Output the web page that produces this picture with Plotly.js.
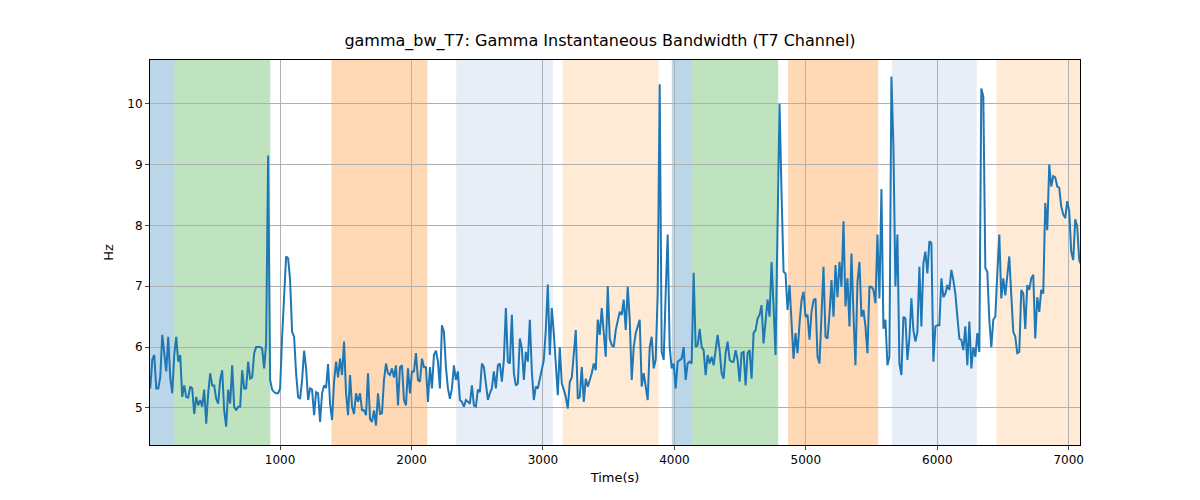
<!DOCTYPE html>
<html>
<head>
<meta charset="utf-8">
<script src="https://cdn.plot.ly/plotly-3.0.1.min.js"></script>
<style>body{margin:0;background:#fff}</style>
</head>
<body>
<div id="myChart" style="width:1200px;height:500px"></div>
<script>
// sampling: first time and step (s)
const t0 = 12, dt = 15.2;

const hz = [
  5.32,5.79,5.87,5.32,5.32,5.5,6.2,5.9,5.6,6.17,5.5,5.24,5.87,6.17,5.76,5.87,5.18,5.37,5.18,5.17,
  5.35,5.32,4.9,5.18,5.04,5.13,5.02,5.3,4.74,5.24,5.57,5.37,5.37,5.15,5.07,5.46,5.62,4.96,4.69,5.3,
  5.07,5.7,5.02,4.96,5.02,5.02,5.62,5.32,5.32,5.76,5.48,5.5,5.9,6.0,6.0,6.0,5.98,5.65,6.06,9.15,5.46,
  5.3,5.26,5.24,5.24,5.32,6.17,6.88,7.49,7.46,7.1,6.25,6.17,5.57,5.18,5.15,5.46,5.94,5.65,5.13,5.32,
  5.3,4.88,5.26,5.24,4.77,5.24,5.37,5.33,5.72,5.07,4.8,5.43,5.76,5.5,5.81,5.54,6.09,5.24,4.88,5.54,
  5.02,4.9,5.24,5.1,5.24,4.96,4.96,4.88,5.57,4.82,4.77,4.96,4.71,5.24,4.9,4.91,5.46,5.73,5.57,5.54,
  5.65,5.5,5.7,5.04,5.67,5.7,5.13,5.04,5.65,5.24,5.6,5.6,5.9,5.46,5.43,5.81,5.67,5.67,5.1,5.67,
  5.32,5.87,5.94,5.76,5.32,6.36,6.25,5.67,5.32,5.15,5.32,5.7,5.46,5.6,5.13,
  5.1,5.02,5.13,5.1,5.07,5.37,5.04,5.02,5.3,5.26,5.73,5.67,5.37,5.13,5.24,5.32,5.6,5.32,5.7,5.73,
  5.43,5.79,6.64,5.76,5.73,6.53,5.57,5.37,5.4,6.14,5.98,5.46,5.92,5.76,6.45,5.6,5.13,5.35,5.32,5.48,
  5.65,5.79,6.28,7.03,5.87,6.64,6.23,5.62,5.21,6.0,5.4,5.3,5.18,4.99,5.43,5.5,5.95,6.28,5.15,5.18,
  5.67,5.1,5.48,5.35,5.46,5.57,5.73,5.62,6.45,6.2,6.64,6.17,5.84,7.0,6.14,6.03,6.0,6.28,6.45,6.58,
  6.53,6.78,6.28,6.99,6.45,5.46,6.0,6.23,6.34,6.45,5.35,5.57,5.35,5.13,6.0,6.17,5.65,5.79,6.88,10.32,
  5.92,5.79,6.88,7.85,6.0,5.65,5.73,5.32,5.76,5.79,5.81,6.0,5.46,5.73,5.76,5.73,7.22,6.0,6.03,6.3,
  6.0,5.95,5.54,5.87,5.73,5.84,5.7,5.95,6.2,5.95,5.57,5.48,5.9,6.09,5.79,5.76,5.76,5.95,5.79,5.43,
  5.9,5.92,5.37,5.9,5.95,5.48,6.23,6.28,6.47,6.53,6.69,6.06,6.5,6.78,6.5,7.4,6.67,5.87,
  7.98,10.0,8.53,7.24,7.21,6.61,7.02,6.5,5.81,6.23,5.9,6.39,6.77,6.91,6.5,6.53,6.12,6.58,6.77,6.8,
  5.84,5.73,6.64,7.32,6.17,6.14,6.55,7.1,6.5,7.35,6.82,7.4,6.99,8.07,6.67,7.13,6.34,7.54,6.55,5.7,
  7.07,7.4,6.5,6.61,6.34,5.9,6.99,6.99,6.94,6.72,7.85,6.8,8.6,6.3,6.45,5.7,5.84,10.45,9.3,7.0,
  7.85,5.73,5.54,6.5,6.47,5.79,6.14,6.8,6.28,6.09,6.25,7.32,6.34,7.38,7.57,7.21,7.74,7.71,5.76,6.34,
  6.36,6.36,7.13,6.82,6.88,7.02,6.94,7.27,7.1,6.88,6.5,6.14,6.12,5.95,6.34,5.7,6.42,5.65,6.0,5.84,
  6.23,5.92,10.25,10.12,7.3,7.24,6.45,6.0,6.45,6.5,7.21,7.85,6.8,7.13,6.85,7.16,7.49,6.85,6.25,6.17,
  5.9,5.92,6.94,6.88,6.3,7.02,6.94,7.13,7.19,6.14,6.82,6.58,6.94,6.88,8.37,7.92,9.0,8.64,8.81,8.79,
  8.64,8.62,8.31,8.18,8.12,8.4,8.23,7.57,7.43,8.1,7.98,7.43,7.35,7.65,7.6
];

// shaded periods: start, end, colour
const spanStart = [10, 195, 1390, 2340, 3150, 3980, 4135, 4865, 5655, 6450];
const spanEnd   = [195, 925, 2120, 3075, 3880, 4135, 4790, 5550, 6300, 7090];
const spanColor = [
  "rgba(31,119,180,0.3)", "rgba(44,160,44,0.3)", "rgba(255,127,14,0.3)",
  "rgba(174,199,232,0.3)", "rgba(255,187,120,0.3)", "rgba(31,119,180,0.3)",
  "rgba(44,160,44,0.3)", "rgba(255,127,14,0.3)", "rgba(174,199,232,0.3)",
  "rgba(255,187,120,0.3)"
];

const times = hz.map((v, i) => t0 + i * dt);

const shapes = spanStart.map((s, i) => ({
  type: "rect", xref: "x", yref: "paper",
  x0: s, x1: spanEnd[i], y0: 0, y1: 1,
  fillcolor: spanColor[i], line: { width: 0 }, layer: "below"
}));

const data = {
  x: times, y: hz, type: "scatter", mode: "lines",
  line: { color: "#1f77b4", width: 2 }
};

const axisStyle = {
  showgrid: true, gridcolor: "#b0b0b0", gridwidth: 1,
  showline: true, mirror: true, linecolor: "#000", linewidth: 1,
  ticks: "outside", ticklen: 4, zeroline: false,
  tickfont: { family: "DejaVu Sans", size: 12, color: "#000" }
};

const layout = {
  width: 1200, height: 500,
  margin: { l: 150, r: 120, t: 60, b: 55 },
  plot_bgcolor: "rgba(0,0,0,0)", paper_bgcolor: "#fff",
  showlegend: false,
  title: { text: "gamma_bw_T7: Gamma Instantaneous Bandwidth (T7 Channel)",
           font: { family: "DejaVu Sans", size: 16, color: "#000" },
           x: 0.5, y: 0.92, yanchor: "middle" },
  xaxis: Object.assign({}, axisStyle, {
    range: [10, 7086], tickvals: [1000, 2000, 3000, 4000, 5000, 6000, 7000],
    title: { text: "Time(s)", font: { family: "DejaVu Sans", size: 13, color: "#000" }, standoff: 6 }
  }),
  yaxis: Object.assign({}, axisStyle, {
    range: [4.39, 10.72], tickvals: [5, 6, 7, 8, 9, 10],
    title: { text: "Hz", font: { family: "DejaVu Sans", size: 13, color: "#000" }, standoff: 10 }
  }),
  shapes: shapes
};

Plotly.newPlot("myChart", [data], layout, { staticPlot: true });
</script>
</body>
</html>
